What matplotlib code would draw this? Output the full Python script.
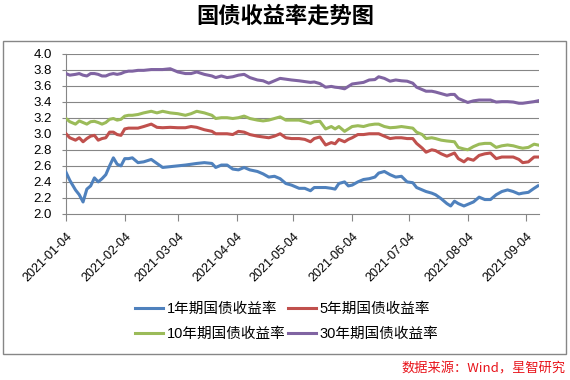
import numpy as np
import pandas as pd
import matplotlib
matplotlib.use("Agg")
import matplotlib.pyplot as plt
import matplotlib.dates as mdates
from matplotlib.patches import Rectangle

plt.rcParams['font.family'] = ['Liberation Sans', 'Noto Sans CJK SC', 'DejaVu Sans']

dates = [
    '2021-01-04', '2021-01-06', '2021-01-09', '2021-01-11', '2021-01-13', '2021-01-15',
    '2021-01-17', '2021-01-19', '2021-01-21', '2021-01-23', '2021-01-25', '2021-01-27',
    '2021-01-29', '2021-01-31', '2021-02-02', '2021-02-04', '2021-02-06', '2021-02-08',
    '2021-02-11', '2021-02-14', '2021-02-18', '2021-02-21', '2021-02-24', '2021-02-28',
    '2021-03-04', '2021-03-08', '2021-03-11', '2021-03-14', '2021-03-18', '2021-03-22',
    '2021-03-24', '2021-03-27', '2021-03-30', '2021-04-02', '2021-04-05', '2021-04-08',
    '2021-04-11', '2021-04-15', '2021-04-18', '2021-04-21', '2021-04-24', '2021-04-27',
    '2021-04-30', '2021-05-03', '2021-05-07', '2021-05-10', '2021-05-13', '2021-05-15',
    '2021-05-18', '2021-05-21', '2021-05-24', '2021-05-26', '2021-05-28', '2021-05-31',
    '2021-06-02', '2021-06-04', '2021-06-07', '2021-06-10', '2021-06-13', '2021-06-16',
    '2021-06-18', '2021-06-21', '2021-06-24', '2021-06-27', '2021-06-30', '2021-07-03',
    '2021-07-06', '2021-07-08', '2021-07-11', '2021-07-13', '2021-07-16', '2021-07-18',
    '2021-07-21', '2021-07-24', '2021-07-26', '2021-07-28', '2021-07-30', '2021-08-02',
    '2021-08-04', '2021-08-07', '2021-08-10', '2021-08-13', '2021-08-16', '2021-08-19',
    '2021-08-22', '2021-08-25', '2021-08-28', '2021-08-31', '2021-09-02', '2021-09-05',
    '2021-09-08', '2021-09-10',
]

y1 = [
    2.52, 2.42, 2.30, 2.24, 2.15, 2.31, 2.35, 2.45, 2.40, 2.44, 2.49, 2.60,
    2.70, 2.62, 2.60, 2.69, 2.69, 2.70, 2.64, 2.65, 2.68, 2.63, 2.58, 2.59,
    2.60, 2.61, 2.62, 2.63, 2.64, 2.63, 2.58, 2.61, 2.61, 2.56, 2.55, 2.58,
    2.55, 2.53, 2.50, 2.46, 2.47, 2.44, 2.38, 2.36, 2.32, 2.32, 2.29, 2.33,
    2.33, 2.33, 2.32, 2.31, 2.38, 2.40, 2.35, 2.36, 2.40, 2.43, 2.44, 2.46,
    2.51, 2.53, 2.49, 2.46, 2.47, 2.40, 2.39, 2.33, 2.30, 2.28, 2.26, 2.24,
    2.19, 2.13, 2.10, 2.16, 2.13, 2.10, 2.12, 2.15, 2.21, 2.18, 2.18, 2.24,
    2.28, 2.30, 2.28, 2.25, 2.26, 2.27, 2.32, 2.35,
]

y5 = [
    3.00, 2.95, 2.92, 2.95, 2.90, 2.94, 2.97, 2.98, 2.92, 2.94, 2.95, 3.02,
    3.02, 2.99, 2.98, 3.06, 3.07, 3.07, 3.07, 3.09, 3.12, 3.08, 3.075, 3.08,
    3.075, 3.075, 3.09, 3.08, 3.05, 3.03, 3.00, 3.00, 3.00, 2.99, 3.03, 3.02,
    2.99, 2.97, 2.96, 2.95, 2.97, 3.00, 2.95, 2.94, 2.94, 2.93, 2.90, 2.94,
    2.96, 2.86, 2.89, 2.875, 2.93, 2.90, 2.93, 2.95, 2.99, 2.99, 3.00, 3.00,
    3.00, 2.97, 2.94, 2.95, 2.95, 2.94, 2.94, 2.88, 2.82, 2.77, 2.80, 2.79,
    2.75, 2.72, 2.74, 2.76, 2.69, 2.65, 2.69, 2.67, 2.73, 2.75, 2.76, 2.69,
    2.71, 2.71, 2.71, 2.68, 2.64, 2.65, 2.71, 2.71,
]

y10 = [
    3.19, 3.15, 3.12, 3.16, 3.14, 3.12, 3.15, 3.155, 3.14, 3.12, 3.14, 3.18,
    3.19, 3.17, 3.18, 3.22, 3.23, 3.23, 3.24, 3.26, 3.28, 3.26, 3.28, 3.26,
    3.25, 3.23, 3.25, 3.28, 3.26, 3.23, 3.19, 3.20, 3.20, 3.19, 3.20, 3.22,
    3.19, 3.17, 3.16, 3.17, 3.19, 3.21, 3.17, 3.17, 3.17, 3.15, 3.13, 3.15,
    3.155, 3.06, 3.09, 3.06, 3.09, 3.03, 3.06, 3.09, 3.10, 3.09, 3.11, 3.12,
    3.12, 3.09, 3.075, 3.08, 3.09, 3.08, 3.07, 3.02, 2.99, 2.94, 2.95, 2.94,
    2.92, 2.91, 2.905, 2.90, 2.83, 2.81, 2.80, 2.84, 2.87, 2.88, 2.88, 2.83,
    2.85, 2.86, 2.85, 2.83, 2.82, 2.83, 2.87, 2.86,
]

y30 = [
    3.75, 3.73, 3.74, 3.75, 3.73, 3.72, 3.75, 3.75, 3.74, 3.72, 3.72, 3.74,
    3.75, 3.74, 3.75, 3.77, 3.78, 3.78, 3.79, 3.79, 3.80, 3.80, 3.80, 3.81,
    3.77, 3.75, 3.75, 3.77, 3.74, 3.72, 3.70, 3.72, 3.70, 3.71, 3.73, 3.74,
    3.70, 3.67, 3.66, 3.63, 3.66, 3.69, 3.68, 3.67, 3.66, 3.65, 3.64, 3.645,
    3.625, 3.58, 3.59, 3.58, 3.575, 3.56, 3.59, 3.62, 3.63, 3.64, 3.67, 3.675,
    3.71, 3.69, 3.655, 3.67, 3.66, 3.655, 3.63, 3.58, 3.55, 3.53, 3.53, 3.52,
    3.50, 3.48, 3.49, 3.49, 3.44, 3.41, 3.39, 3.41, 3.42, 3.42, 3.42, 3.395,
    3.40, 3.40, 3.395, 3.38, 3.38, 3.39, 3.40, 3.41,
]

series_names = ['1年期国债收益率', '5年期国债收益率', '10年期国债收益率', '30年期国债收益率']
series_colors = ['#4F81BD', '#C0504D', '#9BBB59', '#8064A2']
tick_dates = ['2021-01-04', '2021-02-04', '2021-03-04', '2021-04-04', '2021-05-04',
              '2021-06-04', '2021-07-04', '2021-08-04', '2021-09-04']

x = pd.to_datetime(dates)

fig = plt.figure(figsize=(5.7, 3.8), dpi=100)
fig.patches.append(Rectangle((3 / 570, 1 - 354 / 380), 563 / 570, 313 / 380,
                             transform=fig.transFigure, fill=False,
                             edgecolor='#868686', linewidth=1.0))

ax = fig.add_axes([66 / 570, 1 - 214 / 380, 473 / 570, 160.5 / 380])
grid_c = '#868686'
for yv in np.arange(2.2, 4.01, 0.2):
    ax.axhline(yv, color=grid_c, linewidth=0.8, zorder=1)

lines = []
for vals, name, c in zip([y1, y5, y10, y30], series_names, series_colors):
    ln, = ax.plot(x, vals, color=c, linewidth=2.2, label=name, zorder=3,
                  solid_joinstyle='round')
    lines.append(ln)

ax.set_ylim(2.0, 4.0)
ax.set_yticks(np.arange(2.0, 4.01, 0.2))
ax.yaxis.set_major_formatter(plt.FormatStrFormatter('%.1f'))
ax.set_xlim(pd.Timestamp('2021-01-04'), pd.Timestamp('2021-01-04') + pd.Timedelta(days=249.6))
ax.set_xticks(pd.to_datetime(tick_dates))
ax.xaxis.set_major_formatter(mdates.DateFormatter('%Y-%m-%d'))

for side in ['top', 'right']:
    ax.spines[side].set_visible(False)
for side in ['left', 'bottom']:
    ax.spines[side].set_color(grid_c)
    ax.spines[side].set_linewidth(0.8)
ax.tick_params(axis='y', length=3, color=grid_c, labelsize=9.5, pad=7)
ax.tick_params(axis='x', length=5, color=grid_c, labelsize=9, pad=7)
for lab in ax.get_xticklabels():
    lab.set_rotation(45)
    lab.set_ha('right')
    lab.set_rotation_mode('anchor')

fig.text(285 / 570, 1 - 16 / 380, '国债收益率走势图', ha='center', va='center',
         fontsize=16, fontweight='bold', family=['Noto Sans CJK SC'])

# legend filled row by row: 1Y, 5Y / 10Y, 30Y
order = [0, 2, 1, 3]
fig.legend(handles=[lines[i] for i in order], ncol=2, loc='center',
           bbox_to_anchor=(287 / 570, 1 - 321.5 / 380),
           frameon=False, fontsize=10.5, handlelength=1.9, handletextpad=0.25,
           columnspacing=0.2, labelspacing=0.8, borderpad=0)

fig.text(566 / 570, 1 - 369 / 380, '数据来源：Wind，星智研究', ha='right', va='center',
         fontsize=9.5, color='#E8141B', style='italic', family=['Noto Sans CJK SC'])

fig.savefig('out.png', dpi=100)
